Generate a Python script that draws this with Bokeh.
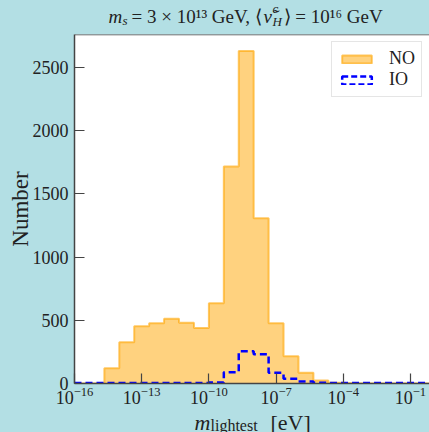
import numpy as np
from bokeh.plotting import figure
from bokeh.layouts import column
from bokeh.models import (Range1d, FixedTicker, Label, Legend, LegendItem, Span,
                          ColumnDataSource)
from bokeh.embed import file_html
from bokeh.resources import INLINE

# Histogram of the lightest neutrino mass: 24 log-spaced bins (2/3 decade each) from 1e-16 to 1 eV
bin_edges = np.logspace(-16, 0, 25)

no_counts = [0, 0, 121, 327, 453, 477, 512, 480, 440, 635, 1717, 2630,
             1308, 477, 215, 85, 24, 6, 2, 0, 0, 0, 0, 0]
io_counts = [4, 4, 4, 4, 4, 4, 4, 4, 4, 8, 90, 255,
             232, 85, 37, 16, 5, 4, 4, 4, 4, 4, 4, 4]

x_ticks = [1e-16, 1e-13, 1e-10, 1e-7, 1e-4, 1e-1]
y_ticks = [0, 500, 1000, 1500, 2000, 2500]

BG = "#b3dfe4"
AX = "#444444"
INK = "#222222"
SERIF = "Liberation Serif"
W = 429

# vertical layout (pixels): title strip, main plot, x-label strip
TOP_H = 32
MAIN_H = 375
BOT_H = 432 - TOP_H - MAIN_H
FL = 74

p = figure(width=W, height=MAIN_H, x_axis_type="log",
           x_range=Range1d(1e-16, 10 ** -0.15),
           y_range=Range1d(0, 1.05 * max(no_counts)),
           output_backend="svg", toolbar_location=None, title=None,
           min_border_left=FL, min_border_right=0,
           min_border_top=2, min_border_bottom=24)
p.background_fill_color = "white"
p.border_fill_color = BG
p.outline_line_color = None
p.grid.visible = False

src = ColumnDataSource(dict(left=bin_edges[:-1], right=bin_edges[1:],
                            no=no_counts, io=io_counts))

# step outlines share the last count so the final bin gets its top edge
no_ext = list(no_counts) + [no_counts[-1]]
io_ext = list(io_counts) + [io_counts[-1]]

p.varea_step(x=bin_edges, y1=np.zeros(len(bin_edges)), y2=no_ext,
             step_mode="after", fill_color="orange", fill_alpha=0.5)
p.step(x=bin_edges, y=no_ext, mode="after", line_color="orange",
       line_alpha=0.6, line_width=2)
p.step(x=bin_edges, y=io_ext, mode="after", line_color="blue",
       line_width=2.5, line_dash="7 4")

# legend swatches: bar renderers over the same bins, kept out of the frame
no_key = p.quad(left="left", right="right", top="no", bottom=0, source=src,
                fill_color="orange", fill_alpha=0.5, line_color="orange",
                line_alpha=0.6, line_width=2, visible=False)
io_key = p.quad(left="left", right="right", top="io", bottom=0, source=src,
                fill_color=None, line_color="blue", line_width=2.5,
                line_dash="6 3", visible=False)
legend = Legend(items=[LegendItem(label="NO", renderers=[no_key]),
                       LegendItem(label="IO", renderers=[io_key])],
                location="top_right", margin=7, padding=6, spacing=0,
                glyph_width=37, glyph_height=10, label_standoff=14,
                label_text_font=SERIF, label_text_font_size="18px",
                label_text_color=INK, click_policy="none",
                border_line_color="#cccccc", border_line_width=1,
                background_fill_color="white", background_fill_alpha=1.0)
p.add_layout(legend)

# axes
for ax in (p.xaxis[0], p.yaxis[0]):
    ax.axis_line_color = AX
    ax.axis_line_width = 1.5
    ax.major_tick_line_color = AX
    ax.major_tick_line_width = 1.2
    ax.major_tick_in = 10
    ax.major_tick_out = 0
    ax.minor_tick_in = 0
    ax.minor_tick_out = 0
    ax.major_label_text_font = SERIF
    ax.major_label_text_font_size = "18px"
    ax.major_label_text_color = INK

p.xaxis.ticker = FixedTicker(ticks=x_ticks, minor_ticks=[])
p.xaxis.major_label_standoff = 3
p.yaxis.ticker = FixedTicker(ticks=y_ticks, minor_ticks=[])
p.yaxis.major_label_standoff = 6
p.yaxis.axis_label = "Number"
p.yaxis.axis_label_text_font = SERIF
p.yaxis.axis_label_text_font_size = "23px"
p.yaxis.axis_label_text_font_style = "normal"
p.yaxis.axis_label_text_color = INK
p.yaxis.axis_label_standoff = -3

# top spine
p.add_layout(Span(location=1.05 * max(no_counts), dimension="width",
                  line_color=AX, line_width=1.5))


def strip(height):
    """A text-only band; its frame lines up with the main frame (x from FL to W),
    so x is in page pixels and y counts pixels down from the band's top."""
    s = figure(width=W, height=height, x_range=Range1d(FL, W),
               y_range=Range1d(0, height), output_backend="svg",
               toolbar_location=None, title=None,
               x_axis_location=None, y_axis_location=None,
               min_border=0, min_border_left=FL, min_border_right=0)
    s.background_fill_color = BG
    s.border_fill_color = BG
    s.outline_line_color = None
    s.grid.visible = False
    return s


def put(s, text, x, y, size, style="normal"):
    s.add_layout(Label(x=x, y=s.height - y, text=text, text_font=SERIF,
                       text_font_size=f"{size}px", text_font_style=style,
                       text_align="left", text_baseline="alphabetic",
                       text_color=INK))


# title: m_s = 3 x 10^13 GeV, <nu~^c_H> = 10^16 GeV
top = strip(TOP_H)
put(top, "m", 108, 16, 19, "italic")
put(top, "s", 122, 20, 13, "italic")
put(top, "= 3 × 10¹³ GeV, ⟨", 131, 16, 19)
put(top, "ν̃", 263, 16, 19, "italic")
put(top, "c", 272, 8, 13, "italic")
put(top, "H", 272, 21, 13, "italic")
put(top, "⟩ = 10¹⁶ GeV", 283, 16, 19)

# x-axis title: m_lightest [eV]
bot = strip(BOT_H)
yb = 422 - (TOP_H + MAIN_H)
put(bot, "m", 194, yb, 22, "italic")
put(bot, "lightest", 210, yb + 3, 16)
put(bot, "[eV]", 270, yb, 22)

layout = column(top, p, bot, spacing=0)
layout.styles = {"background-color": BG}
open("out.html", "w").write(file_html(layout, INLINE))
